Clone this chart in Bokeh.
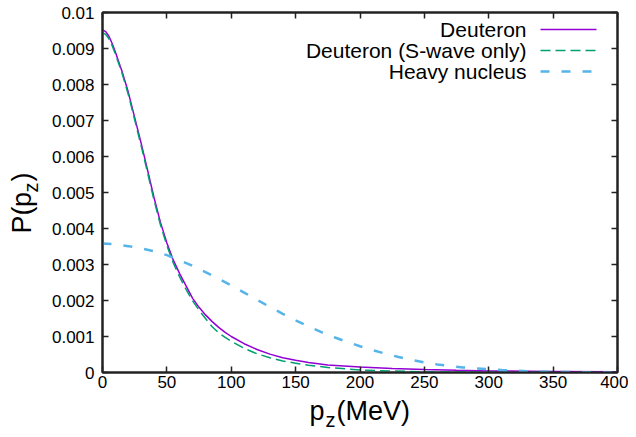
import math
from bokeh.plotting import figure
from bokeh.models import FixedTicker, LinearAxis, Label, Range1d
from bokeh.layouts import column, row
from bokeh.embed import file_html
from bokeh.resources import INLINE

# ---------------- data ----------------
pz_deut = [0, 2.5, 5, 7.5, 10, 12.5, 15, 20, 25, 30, 35, 40, 45, 50, 55, 60, 65,
           70, 75, 80, 85, 90, 95, 100, 110, 120, 130, 140, 150, 160, 175, 200,
           225, 250, 275, 300, 350, 400]
deuteron_e3 = [9.52, 9.47, 9.34, 9.14, 8.90, 8.64, 8.38, 7.79, 7.08, 6.37, 5.62,
               4.86, 4.17, 3.60, 3.12, 2.74, 2.40, 2.06, 1.81, 1.60, 1.42, 1.26,
               1.12, 1.00, 0.80, 0.64, 0.51, 0.41, 0.34, 0.28, 0.21, 0.15, 0.11,
               0.08, 0.06, 0.045, 0.03, 0.02]
swave_e3 = [9.44, 9.39, 9.27, 9.08, 8.85, 8.59, 8.33, 7.73, 7.02, 6.30, 5.55,
            4.79, 4.10, 3.53, 3.04, 2.65, 2.30, 1.99, 1.73, 1.50, 1.28, 1.11,
            0.98, 0.87, 0.67, 0.52, 0.41, 0.32, 0.26, 0.20, 0.14, 0.07, 0.04,
            0.02, 0.012, 0.007, 0.003, 0.001]
pz_heavy = list(range(0, 401, 10))
heavy_e3 = [3.58, 3.56, 3.51, 3.45, 3.37, 3.26, 3.12, 2.96, 2.79, 2.61, 2.42,
            2.22, 2.02, 1.82, 1.63, 1.45, 1.28, 1.12, 0.98, 0.85, 0.73, 0.62,
            0.52, 0.43, 0.35, 0.28, 0.225, 0.18, 0.14, 0.115, 0.09, 0.068,
            0.05, 0.038, 0.028, 0.021, 0.015, 0.011, 0.008, 0.006, 0.004]

deuteron = [v / 1000 for v in deuteron_e3]
swave = [v / 1000 for v in swave_e3]
heavy = [v / 1000 for v in heavy_e3]

series_names = ["Deuteron", "Deuteron (S-wave only)", "Heavy nucleus"]
x_ticks = [0, 50, 100, 150, 200, 250, 300, 350, 400]
y_ticks = [0, 0.001, 0.002, 0.003, 0.004, 0.005, 0.006, 0.007, 0.008, 0.009, 0.01]
y_tick_labels = ["0", "0.001", "0.002", "0.003", "0.004", "0.005", "0.006",
                 "0.007", "0.008", "0.009", "0.01"]

# ---------------- styling / layout ----------------
FONT = "Liberation Sans"
PURPLE = "#9400D3"
GREEN = "#009E73"
BLUE = "#56B4E9"
AXIS_COL = "#222222"

YW = 40            # width of the strip holding the y title
MW, MH = 588, 396  # main figure
XH = 41            # height of the strip holding the x title
LEFT, RIGHT, TOP, BOTTOM = 62, 11, 12, 24
X0, X1, Y0, Y1 = 0, 400, 0, 0.01
FW = MW - LEFT - RIGHT
FH = MH - TOP - BOTTOM

p = figure(width=MW, height=MH, output_backend="svg", toolbar_location=None,
           x_range=Range1d(X0, X1), y_range=Range1d(Y0, Y1),
           min_border_left=LEFT, min_border_right=RIGHT,
           min_border_top=TOP, min_border_bottom=BOTTOM,
           x_axis_type=None, y_axis_type=None)
p.grid.visible = False
p.outline_line_color = AXIS_COL
p.outline_line_width = 2
p.background_fill_color = "white"
p.border_fill_color = "white"


def style_axis(ax, ticks, labels=None):
    ax.axis_line_color = AXIS_COL
    ax.axis_line_width = 2
    ax.major_tick_line_color = AXIS_COL
    ax.major_tick_line_width = 1.5
    ax.major_tick_in = 6
    ax.major_tick_out = 0
    ax.minor_tick_line_color = None
    ax.major_label_text_font = FONT
    ax.major_label_text_color = "black"
    if labels is None:
        ax.major_label_overrides = {t: "" for t in ticks}
        ax.major_label_text_font_size = "1px"
        ax.major_label_standoff = 0
    else:
        ax.major_label_overrides = {t: s for t, s in zip(ticks, labels)}
        ax.major_label_text_font_size = "17px"


xb = LinearAxis(ticker=FixedTicker(ticks=x_ticks))
style_axis(xb, x_ticks, [str(t) for t in x_ticks])
xb.major_label_standoff = 3
p.add_layout(xb, "below")

yl = LinearAxis(ticker=FixedTicker(ticks=y_ticks))
style_axis(yl, y_ticks, y_tick_labels)
yl.major_label_standoff = 8
p.add_layout(yl, "left")

xt = LinearAxis(ticker=FixedTicker(ticks=x_ticks))
style_axis(xt, x_ticks)
p.add_layout(xt, "above")

yr = LinearAxis(ticker=FixedTicker(ticks=y_ticks))
style_axis(yr, y_ticks)
p.add_layout(yr, "right")

# ---------------- curves ----------------
p.line(pz_deut, deuteron, line_color=PURPLE, line_width=1.5)
p.line(pz_deut, swave, line_color=GREEN, line_width=1.5, line_dash="10 5")
p.line(pz_heavy, heavy, line_color=BLUE, line_width=2.5, line_dash="9 12")


# reference-pixel -> main-figure data helpers
def dx(px):
    return X0 + (px - YW - LEFT) * (X1 - X0) / FW


def dy(py):
    return Y0 + (MH - BOTTOM - py) * (Y1 - Y0) / FH


# ---------------- legend (text right-aligned, sample on the right) ----------------
leg_rows = [29, 50, 71]
leg_styles = [dict(line_color=PURPLE, line_width=1.5),
              dict(line_color=GREEN, line_width=1.5, line_dash="10 5"),
              dict(line_color=BLUE, line_width=2.5, line_dash="9 12")]
for name, rw, st in zip(series_names, leg_rows, leg_styles):
    p.add_layout(Label(x=dx(526), y=dy(rw), text=name, text_align="right",
                       text_baseline="middle", text_font=FONT,
                       text_font_size="21px", text_color="black"))
    p.line([dx(540), dx(596)], [dy(rw), dy(rw)], **st)


# ---------------- axis titles (separate strips so nothing is clipped) ----------------
def strip(w, h):
    f = figure(width=w, height=h, x_range=Range1d(0, w), y_range=Range1d(0, h),
               output_backend="svg", toolbar_location=None, min_border=0,
               x_axis_type=None, y_axis_type=None)
    f.outline_line_color = None
    f.background_fill_color = "white"
    f.border_fill_color = "white"
    return f


big = "27px"
small = "20px"

# y title: P(p_z), rotated, in strip of size YW x MH (y measured from top)
ys = strip(YW, MH)
ang = math.pi / 2
for txt, bx, by, fs in [("P(", 21, 243, big), ("p", 21, 214, big),
                        ("z", 30, 198, small), (")", 21, 186, big)]:
    ys.add_layout(Label(x=bx, y=MH - by, text=txt, text_font=FONT,
                        text_font_size=fs, text_baseline="alphabetic",
                        angle=ang, text_color="black"))

# x title: p_z(MeV), in strip below (reference y measured from page top)
xs = strip(YW + MW, XH)
for txt, bx, by, fs in [("p", 309, 410, big), ("z", 325, 419, small),
                        ("(MeV)", 336, 410, big)]:
    xs.add_layout(Label(x=bx, y=XH - (by - MH), text=txt, text_font=FONT,
                        text_font_size=fs, text_baseline="alphabetic",
                        text_color="black"))

layout = column(row(ys, p), xs)
open("out.html", "w").write(file_html(layout, INLINE))
